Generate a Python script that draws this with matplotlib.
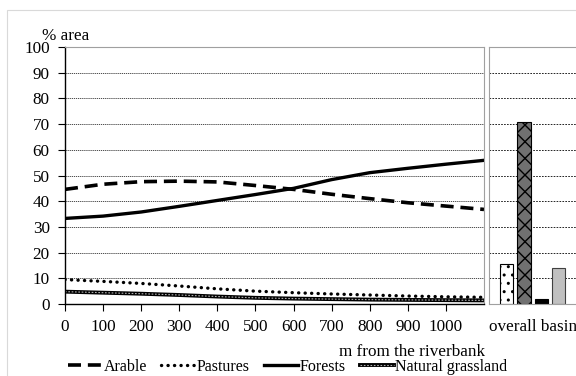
import matplotlib.pyplot as plt
from matplotlib.patches import Rectangle
from matplotlib.legend_handler import HandlerTuple

plt.rcParams['font.family'] = ['Liberation Serif', 'DejaVu Serif']
plt.rcParams['font.size'] = 12.3
plt.rcParams['hatch.linewidth'] = 1.0

# distance from the riverbank (m)
dist = [0, 100, 200, 300, 400, 500, 600, 700, 800, 900, 1000, 1100]
# % area along the gradient
arable = [44.6, 46.6, 47.6, 47.8, 47.5, 46.1, 44.6, 42.7, 41.0, 39.4, 38.1, 36.8]
pastures = [9.5, 8.8, 8.0, 7.0, 5.9, 5.0, 4.4, 3.9, 3.5, 3.1, 2.8, 2.6]
forests = [33.3, 34.2, 35.8, 38.0, 40.3, 42.6, 45.0, 48.4, 51.1, 52.8, 54.4, 55.9]
grassland = [4.8, 4.4, 4.0, 3.5, 2.9, 2.4, 2.1, 1.9, 1.7, 1.6, 1.5, 1.4]

# overall basin bars
basin_cats = ['Pastures', 'Natural grassland', 'Forests', 'Arable']
basin_vals = [15.5, 71.0, 1.8, 14.0]

xticks = [0, 100, 200, 300, 400, 500, 600, 700, 800, 900, 1000]
yticks = [0, 10, 20, 30, 40, 50, 60, 70, 80, 90, 100]

W, H = 576, 376
fig = plt.figure(figsize=(W / 100, H / 100), dpi=100)

# outer chart frame
fig.patches.append(Rectangle((7 / W, -0.1), 1.2, 1 - 10 / H + 0.1,
                             transform=fig.transFigure, fill=False,
                             edgecolor='#d9d9d9', lw=0.8))

bot = 1 - 304 / H
top = 1 - 47 / H
ax = fig.add_axes([65 / W, bot, (484 - 65) / W, top - bot])
ax2 = fig.add_axes([489 / W, bot, (600 - 489) / W, top - bot])

# line chart
l1, = ax.plot(dist, arable, color='black', lw=2.6, ls=(0, (3.6, 1.9)))
l2, = ax.plot(dist, pastures, color='black', lw=2.4, ls=(0, (0.05, 1.9)),
              dash_capstyle='round')
l3, = ax.plot(dist, forests, color='black', lw=2.4)
l4, = ax.plot(dist, grassland, color='black', lw=2.8)
l4b, = ax.plot(dist, grassland, color='#b0b0b0', lw=0.8, ls=(0, (1.5, 1.5)))

ax.set_xlim(0, 1100)
ax.set_ylim(0, 100)
ax.set_xticks(xticks)
ax.set_yticks(yticks)
ax.grid(axis='y', color='#303030', ls=(0, (1.5, 1)), lw=0.6)
ax.set_axisbelow(True)
ax.tick_params(direction='out', length=5, width=0.8, pad=6)
for s in ['top', 'right']:
    ax.spines[s].set_color('#a0a0a0')
for s in ['left', 'bottom']:
    ax.spines[s].set_color('black')
    ax.spines[s].set_linewidth(1.0)

# overall basin bars
bx = list(range(len(basin_vals)))
ax2.bar(bx[0], basin_vals[0], width=0.78, color='white', edgecolor='black',
        hatch='..', lw=0.8)
ax2.bar(bx[1], basin_vals[1], width=0.78, color='#707070', edgecolor='black',
        hatch='xx', lw=0.8)
ax2.bar(bx[2], basin_vals[2], width=0.78, color='black', edgecolor='black', lw=0.8)
ax2.bar(bx[3], basin_vals[3], width=0.78, color='#c0c0c0', edgecolor='#404040', lw=0.8)
ax2.set_xlim(-1.025, 5.4)
ax2.set_ylim(0, 100)
ax2.set_yticks(yticks)
ax2.set_yticklabels([])
ax2.set_xticks([1.5])
ax2.set_xticklabels(['overall basin'])
ax2.tick_params(length=0, pad=11)
ax2.grid(axis='y', color='black', ls=(0, (2, 1.5)), lw=0.6)
ax2.set_axisbelow(True)
for s in ax2.spines.values():
    s.set_color('#a0a0a0')

fig.text(42 / W, 1 - 36 / H, '% area', ha='left', va='center')
fig.text(412 / W, 1 - 352 / H, 'm from the riverbank', ha='center', va='center')

fig.legend([l1, l2, l3, (l4, l4b)],
           ['Arable', 'Pastures', 'Forests', 'Natural grassland'],
           handler_map={tuple: HandlerTuple(ndivide=1)},
           loc='center left', bbox_to_anchor=(68 / W, 1 - 367 / H),
           ncol=4, frameon=False, handlelength=2.1, handletextpad=0.12,
           columnspacing=0.9, borderpad=0, borderaxespad=0, fontsize=11.5)

fig.savefig('out.png', dpi=100)
